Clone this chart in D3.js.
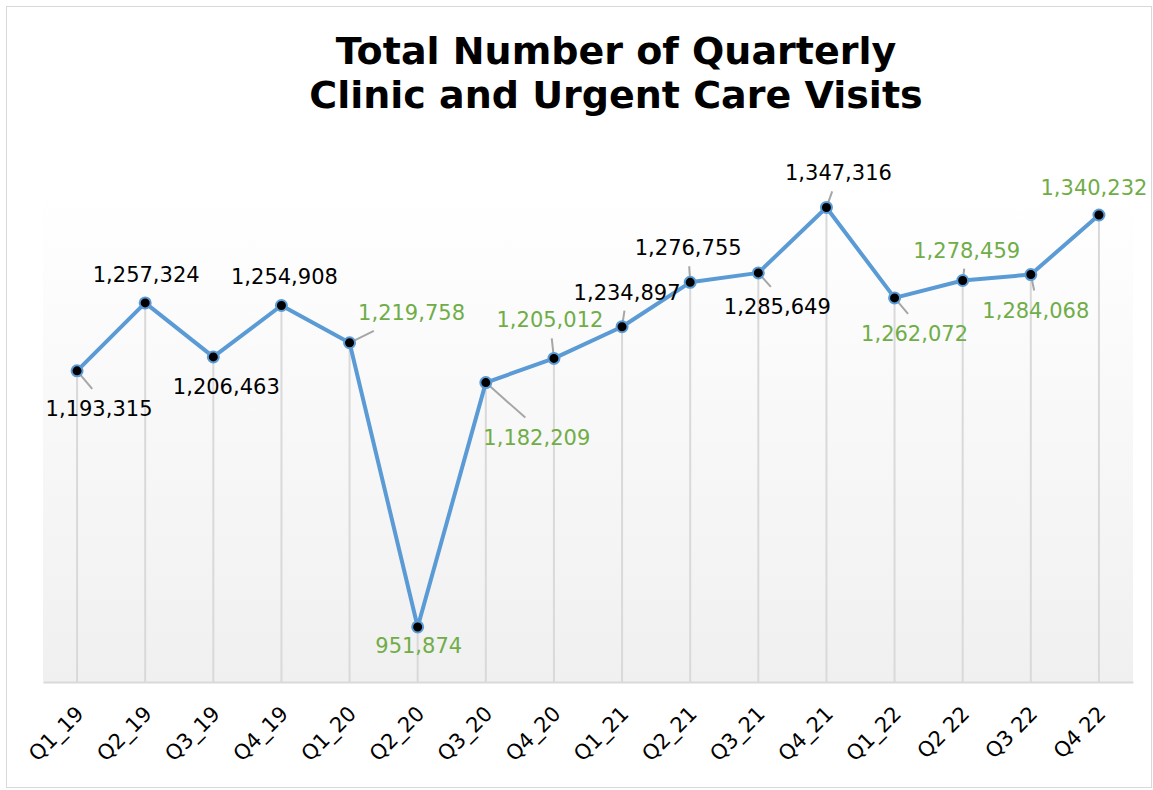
<!DOCTYPE html>
<html>
<head>
<meta charset="utf-8">
<script src="https://cdn.jsdelivr.net/npm/d3@7"></script>
<style>
  body { margin: 0; background: #fff; }
  text { font-family: "DejaVu Sans", Verdana, sans-serif; }
</style>
</head>
<body>
<svg id="svg"></svg>
<script>
// data
const quarters = ["Q1_19", "Q2_19", "Q3_19", "Q4_19", "Q1_20", "Q2_20", "Q3_20", "Q4_20",
  "Q1_21", "Q2_21", "Q3_21", "Q4_21", "Q1_22", "Q2 22", "Q3 22", "Q4 22"];
const visits = [1193315, 1257324, 1206463, 1254908, 1219758, 951874, 1182209, 1205012,
  1234897, 1276755, 1285649, 1347316, 1262072, 1278459, 1284068, 1340232];
// label colour group: "k" black, "g" green
const labelGroup = ["k", "k", "k", "k", "g", "g", "g", "g",
  "k", "k", "k", "k", "g", "g", "g", "g"];
// label offsets from the point (dx, dy to text baseline), leader flag
const labelOffsets = [
  [22, 45, 1], [1, -21, 0], [13, 37, 0], [3, -21, 0],
  [62, -23, 1], [1, 26, 0], [51, 62, 1], [-4, -31, 1],
  [5, -27, 1], [-2, -27, 1], [19, 41, 1], [12, -27, 1],
  [20, 43, 1], [4, -23, 1], [5, 43, 1], [-5, -20, 0]
];

const width = 1153, height = 790,
  margin = { top: 194, bottom: 108, left: 43, right: 20 };

const svg = d3.select("#svg")
  .attr("width", width)
  .attr("height", height);

const colors = { k: "#000000", g: "#70ad47" };

// outer frame
svg.append("rect")
  .attr("x", 6.5).attr("y", 6.5)
  .attr("width", width - 8).attr("height", height - 9)
  .attr("fill", "#fff")
  .attr("stroke", "#d9d9d9");

// gradient plot area
const defs = svg.append("defs");
const grad = defs.append("linearGradient")
  .attr("id", "bg")
  .attr("x1", 0).attr("y1", 0).attr("x2", 0).attr("y2", 1);
grad.append("stop").attr("offset", "0%").attr("stop-color", "#ffffff");
grad.append("stop").attr("offset", "100%").attr("stop-color", "#f0f0f0");

const xScale = d3.scaleBand()
  .domain(quarters)
  .range([margin.left, width - margin.right])
  .padding(0);

const yScale = d3.scaleLinear()
  .domain([900000, 1360000])
  .range([height - margin.bottom, margin.top]);

const cx = d => xScale(d) + xScale.bandwidth() / 2;

svg.append("rect")
  .attr("x", margin.left)
  .attr("y", margin.top)
  .attr("width", width - margin.left - margin.right)
  .attr("height", height - margin.top - margin.bottom)
  .attr("fill", "url(#bg)");

// title
svg.append("text")
  .attr("x", 616)
  .attr("text-anchor", "middle")
  .attr("font-size", 38)
  .attr("font-weight", "bold")
  .selectAll("tspan")
  .data(["Total Number of Quarterly", "Clinic and Urgent Care Visits"])
  .join("tspan")
  .attr("x", 616)
  .attr("y", (d, i) => 64 + i * 44)
  .text(d => d);

const pts = quarters.map((q, i) => ({ q, v: visits[i], i }));

// drop lines
svg.append("g")
  .selectAll("line")
  .data(pts)
  .join("line")
  .attr("x1", d => cx(d.q)).attr("x2", d => cx(d.q))
  .attr("y1", d => yScale(d.v))
  .attr("y2", height - margin.bottom)
  .attr("stroke", "#d9d9d9")
  .attr("stroke-width", 2);

// x axis
const xAxis = svg.append("g")
  .attr("transform", `translate(0,${height - margin.bottom})`)
  .call(d3.axisBottom(xScale).tickSize(0).tickPadding(0));
xAxis.select(".domain")
  .attr("stroke", "#d9d9d9")
  .attr("stroke-width", 2);
xAxis.selectAll("text")
  .attr("font-family", "DejaVu Sans, Verdana, sans-serif")
  .attr("font-size", 21)
  .attr("fill", "#000")
  .attr("text-anchor", "end")
  .attr("dy", null)
  .attr("transform", "translate(8,33) rotate(-45)");

// line
const line = d3.line()
  .x(d => cx(d.q))
  .y(d => yScale(d.v));

svg.append("path")
  .datum(pts)
  .attr("d", line)
  .attr("fill", "none")
  .attr("stroke", "#5b9bd5")
  .attr("stroke-width", 4)
  .attr("stroke-linejoin", "round");

// leader lines
svg.append("g")
  .selectAll("line")
  .data(pts.filter(d => labelOffsets[d.i][2]))
  .join("line")
  .attr("x1", d => cx(d.q))
  .attr("y1", d => yScale(d.v))
  .attr("x2", d => {
    const [dx, dy] = labelOffsets[d.i];
    return cx(d.q) + (dx === 0 ? 0 : dx * (Math.abs(dy) - 14) / Math.abs(dy));
  })
  .attr("y2", d => {
    const [dx, dy] = labelOffsets[d.i];
    return yScale(d.v) + (dy > 0 ? dy - 27 : dy + 11);
  })
  .attr("stroke", "#a6a6a6")
  .attr("stroke-width", 2);

// markers
svg.append("g")
  .selectAll("circle")
  .data(pts)
  .join("circle")
  .attr("cx", d => cx(d.q))
  .attr("cy", d => yScale(d.v))
  .attr("r", 5.5)
  .attr("fill", "#000")
  .attr("stroke", "#5b9bd5")
  .attr("stroke-width", 2);

// value labels
svg.append("g")
  .selectAll("text")
  .data(pts)
  .join("text")
  .attr("x", d => cx(d.q) + labelOffsets[d.i][0])
  .attr("y", d => yScale(d.v) + labelOffsets[d.i][1])
  .attr("text-anchor", "middle")
  .attr("font-size", 21)
  .attr("fill", d => colors[labelGroup[d.i]])
  .text(d => d3.format(",")(d.v));
</script>
</body>
</html>
